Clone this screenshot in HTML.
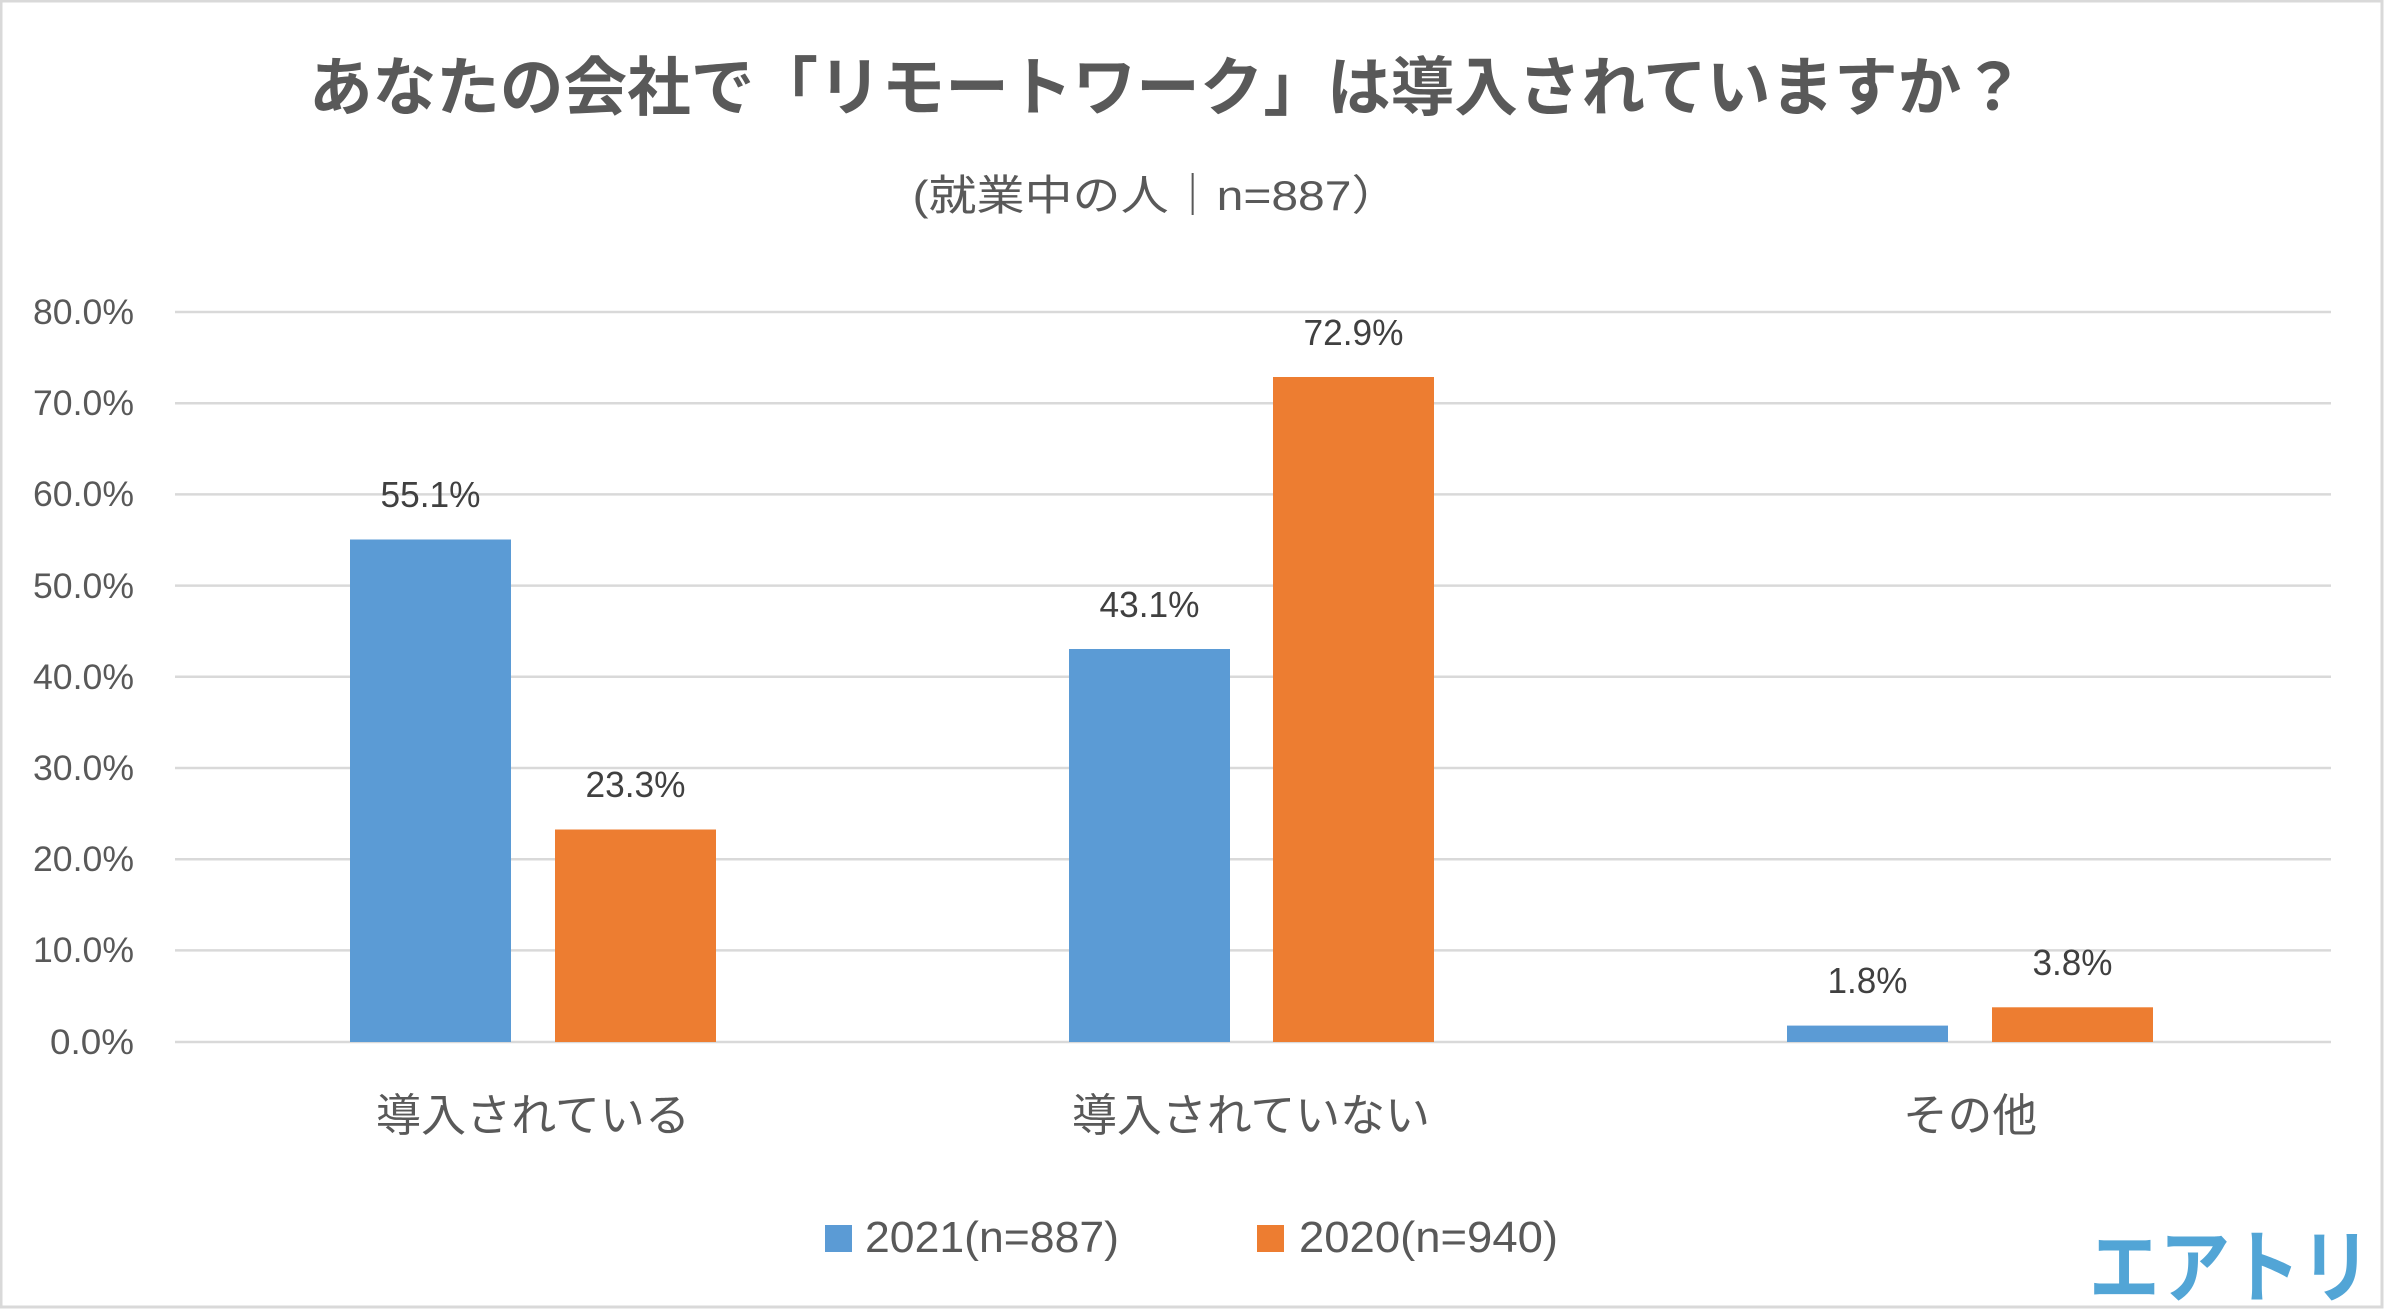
<!DOCTYPE html>
<html><head><meta charset="utf-8"><style>
html,body{margin:0;padding:0;background:#fff;}
svg{display:block;}
text{font-family:"Liberation Sans","Noto Sans CJK JP",sans-serif;fill:#595959;}
</style></head><body>
<svg width="2387" height="1315" viewBox="0 0 2387 1315" xmlns="http://www.w3.org/2000/svg">
<rect x="1" y="1" width="2381" height="1306" fill="#fff" stroke="#d9d9d9" stroke-width="3"/>
<text x="1167" y="110" font-size="64" font-weight="bold" text-anchor="middle" textLength="1716" lengthAdjust="spacingAndGlyphs">あなたの会社で「リモートワーク」は導入されていますか？</text>
<text x="1156" y="210" font-size="42" text-anchor="middle" textLength="487" lengthAdjust="spacingAndGlyphs">(就業中の人｜n=887）</text>
<g stroke="#d9d9d9" stroke-width="2.5">
<line x1="175" x2="2331" y1="312" y2="312"/>
<line x1="175" x2="2331" y1="403.2" y2="403.2"/>
<line x1="175" x2="2331" y1="494.4" y2="494.4"/>
<line x1="175" x2="2331" y1="585.6" y2="585.6"/>
<line x1="175" x2="2331" y1="676.8" y2="676.8"/>
<line x1="175" x2="2331" y1="768" y2="768"/>
<line x1="175" x2="2331" y1="859.2" y2="859.2"/>
<line x1="175" x2="2331" y1="950.4" y2="950.4"/>
<line x1="175" x2="2331" y1="1042" y2="1042"/>
</g>
<g font-size="35" text-anchor="end">
<text x="134" y="324" textLength="101" lengthAdjust="spacingAndGlyphs">80.0%</text>
<text x="134" y="415" textLength="101" lengthAdjust="spacingAndGlyphs">70.0%</text>
<text x="134" y="506" textLength="101" lengthAdjust="spacingAndGlyphs">60.0%</text>
<text x="134" y="598" textLength="101" lengthAdjust="spacingAndGlyphs">50.0%</text>
<text x="134" y="689" textLength="101" lengthAdjust="spacingAndGlyphs">40.0%</text>
<text x="134" y="780" textLength="101" lengthAdjust="spacingAndGlyphs">30.0%</text>
<text x="134" y="871" textLength="101" lengthAdjust="spacingAndGlyphs">20.0%</text>
<text x="134" y="962" textLength="101" lengthAdjust="spacingAndGlyphs">10.0%</text>
<text x="134" y="1054" textLength="84" lengthAdjust="spacingAndGlyphs">0.0%</text>
</g>
<g fill="#5b9bd5">
<rect x="350" y="539.5" width="161" height="502.5"/>
<rect x="1069" y="649" width="161" height="393"/>
<rect x="1787" y="1025.6" width="161" height="16.4"/>
</g>
<g fill="#ed7d31">
<rect x="555" y="829.5" width="161" height="212.5"/>
<rect x="1273" y="377" width="161" height="665"/>
<rect x="1992" y="1007.3" width="161" height="34.7"/>
</g>
<g font-size="36" text-anchor="middle" style="fill:#404040">
<text x="430.5" y="507" textLength="100" lengthAdjust="spacingAndGlyphs" style="fill:#404040">55.1%</text>
<text x="635.5" y="797" textLength="100" lengthAdjust="spacingAndGlyphs" style="fill:#404040">23.3%</text>
<text x="1149.5" y="617" textLength="100" lengthAdjust="spacingAndGlyphs" style="fill:#404040">43.1%</text>
<text x="1353.5" y="345" textLength="100" lengthAdjust="spacingAndGlyphs" style="fill:#404040">72.9%</text>
<text x="1867.5" y="993" textLength="80" lengthAdjust="spacingAndGlyphs" style="fill:#404040">1.8%</text>
<text x="2072.5" y="975" textLength="80" lengthAdjust="spacingAndGlyphs" style="fill:#404040">3.8%</text>
</g>
<g font-size="45" text-anchor="middle">
<text x="533" y="1131" textLength="314" lengthAdjust="spacingAndGlyphs">導入されている</text>
<text x="1251" y="1131" textLength="358" lengthAdjust="spacingAndGlyphs">導入されていない</text>
<text x="1970" y="1131" textLength="134" lengthAdjust="spacingAndGlyphs">その他</text>
</g>
<rect x="825" y="1225" width="27" height="27" fill="#5b9bd5"/>
<text x="865" y="1252" font-size="44" textLength="254" lengthAdjust="spacingAndGlyphs">2021(n=887)</text>
<rect x="1257" y="1225" width="27" height="27" fill="#ed7d31"/>
<text x="1299" y="1252" font-size="44" textLength="259" lengthAdjust="spacingAndGlyphs">2020(n=940)</text>
<text x="2089" y="1296" font-size="80" font-weight="bold" textLength="282" lengthAdjust="spacingAndGlyphs" style="fill:#52a5d6">エアトリ</text>
</svg>
</body></html>
